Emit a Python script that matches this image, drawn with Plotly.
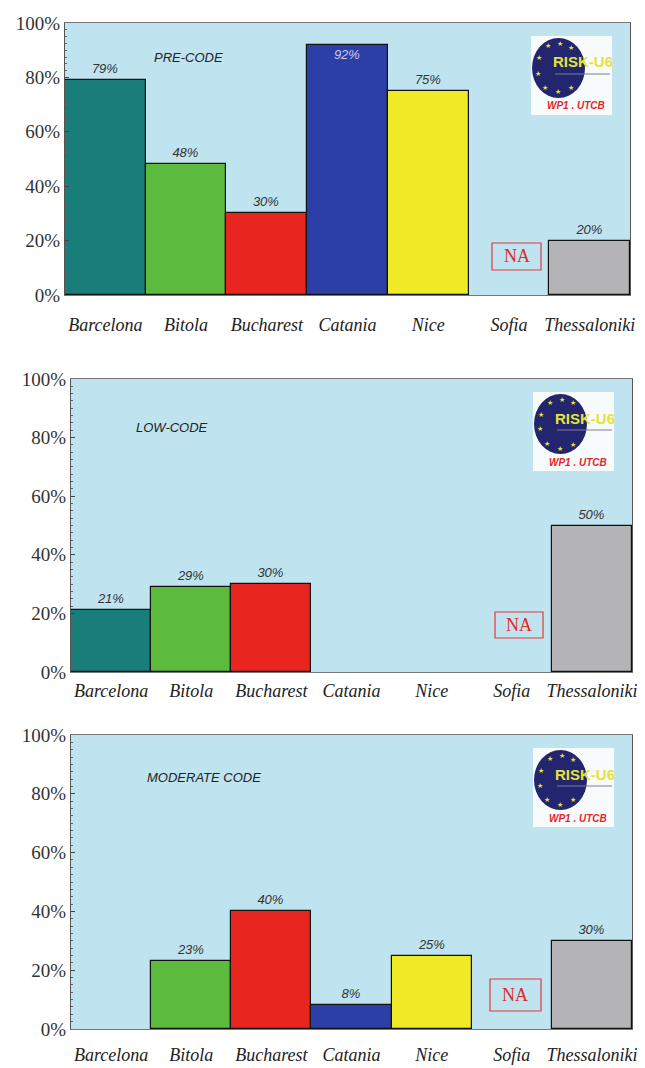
import plotly.graph_objects as go
from plotly.subplots import make_subplots

# page is 645x1068; the browser puts an 8px body margin before the figure
OFF = 8
W, H = 645 - OFF, 1068 - OFF

CITIES = ["Barcelona", "Bitola", "Bucharest", "Catania", "Nice", "Sofia", "Thessaloniki"]
COLORS = ["#197d7a", "#5cba3c", "#e8261f", "#2b3fa7", "#f0ea26", "#bfe4f0", "#b4b4b6"]

PRE_CODE = [79, 48, 30, 92, 75, None, 20]
LOW_CODE = [21, 29, 30, None, None, None, 50]
MODERATE_CODE = [None, 23, 40, 8, 25, None, 30]

PANEL_TITLES = ["PRE-CODE", "LOW-CODE", "MODERATE CODE"]
Y_TICKS = [0, 20, 40, 60, 80, 100]
Y_TICK_TEXT = [f"{v}%" for v in Y_TICKS]

# plot areas in page pixels: (left, right, top, bottom)
PANELS = [(65, 630, 23, 295), (71, 632, 379, 672), (71, 632, 735, 1029)]
TITLE_POS = [(189, 58), (172, 427), (204, 777)]
NA_BOX = [(492, 541, 243, 270), (495, 543, 612, 638), (490, 541, 979, 1011)]
LABEL_STANDOFF = [13, 2, 9]

BG = "#bfe4f0"
SERIF = "Liberation Serif, Times New Roman, serif"
SANS = "Liberation Sans, Arial, sans-serif"


def px(x):
    return (x - OFF) / W


def py(y):
    return 1 - (y - OFF) / H


def note(x, y, text, font):
    fig.add_annotation(x=px(x), y=py(y), xref="paper", yref="paper", text=text,
                       xanchor="center", yanchor="middle", showarrow=False, font=font)


fig = make_subplots(rows=3, cols=1)

for i, values in enumerate([PRE_CODE, LOW_CODE, MODERATE_CODE]):
    row = i + 1
    text = [f"{v}%" if v is not None else "" for v in values]
    pos = ["inside" if (v is not None and v > 90) else "outside" for v in values]
    fig.add_trace(go.Bar(
        x=CITIES, y=values, text=text, textposition=pos,
        insidetextanchor="end",
        marker=dict(color=COLORS, line=dict(color="#111111", width=1.2)),
        insidetextfont=dict(family=SANS, size=13, style="italic", color="#c9c9f2"),
        outsidetextfont=dict(family=SANS, size=13, style="italic", color="#333333"),
        cliponaxis=False, showlegend=False, hoverinfo="skip",
    ), row=row, col=1)

    l, r, t, b = PANELS[i]
    xa = "xaxis" if i == 0 else f"xaxis{row}"
    ya = "yaxis" if i == 0 else f"yaxis{row}"
    fig.layout[xa].update(
        domain=[px(l), px(r)], automargin=False,
        showline=True, mirror=True, linecolor="#777777", linewidth=1,
        ticks="", ticklabelstandoff=LABEL_STANDOFF[i],
        tickfont=dict(family=SERIF, size=18, style="italic", color="#222222"),
        showgrid=False, fixedrange=True,
    )
    fig.layout[ya].update(
        domain=[py(b), py(t)], range=[0, 100], automargin=False,
        tickvals=Y_TICKS, ticktext=Y_TICK_TEXT,
        tickfont=dict(family=SERIF, size=19, color="#333333"),
        showline=True, mirror=True, linecolor="#555555", linewidth=1,
        ticks="inside", ticklen=4, tickcolor="#444444",
        minor=dict(ticks="inside", ticklen=2, dtick=2.5, tickcolor="#666666"),
        showgrid=False, zeroline=False, fixedrange=True,
    )

    # panel title
    tx, ty = TITLE_POS[i]
    note(tx, ty, PANEL_TITLES[i], dict(family=SANS, size=13, style="italic", color="#222222"))

    # NA box for Sofia
    nl, nr, nt, nb = NA_BOX[i]
    fig.add_shape(type="rect", xref="paper", yref="paper",
                  x0=px(nl), x1=px(nr), y0=py(nb), y1=py(nt),
                  line=dict(color="#e23a3a", width=1.2), fillcolor=BG)
    note((nl + nr) / 2, (nt + nb) / 2, "NA", dict(family=SERIF, size=18, color="#e02828"))

    # RISK-UE logo
    lx0, lx1, ly0, ly1 = r - 99, r - 18, t + 13, t + 92
    fig.add_shape(type="rect", xref="paper", yref="paper",
                  x0=px(lx0), x1=px(lx1), y0=py(ly1), y1=py(ly0),
                  line=dict(width=0), fillcolor="#f8fbfc")
    ex0, ex1, ey0, ey1 = lx0 + 1, lx0 + 54, ly0 + 2, ly0 + 62
    fig.add_shape(type="circle", xref="paper", yref="paper",
                  x0=px(ex0), x1=px(ex1), y0=py(ey1), y1=py(ey0),
                  line=dict(width=0), fillcolor="#23256e")
    cx, cy = (ex0 + ex1) / 2, (ey0 + ey1) / 2
    for sx, sy in [(-11, -22), (1, -25), (12, -21), (-20, -10), (-21, 5),
                   (-14, 19), (-1, 24), (12, 20)]:
        note(cx + sx, cy + sy, "★", dict(size=7, color="#e8e23a"))
    fig.add_shape(type="line", xref="paper", yref="paper",
                  x0=px(lx0 + 24), x1=px(lx1 - 2), y0=py(ly0 + 38), y1=py(ly0 + 38),
                  line=dict(color="#7a7aa0", width=1))
    note(lx0 + 52, ly0 + 26, "<b>RISK-U6</b>", dict(family=SANS, size=15, color="#e6e23a"))
    note(lx0 + 45, ly0 + 70, "<b>WP1 . UTCB</b>",
         dict(family=SANS, size=10, style="italic", color="#e0282a"))

fig.update_layout(
    width=W, height=H,
    margin=dict(l=0, r=0, t=0, b=0),
    paper_bgcolor="white", plot_bgcolor=BG,
    bargap=0,
)

fig.write_html("out.html")
